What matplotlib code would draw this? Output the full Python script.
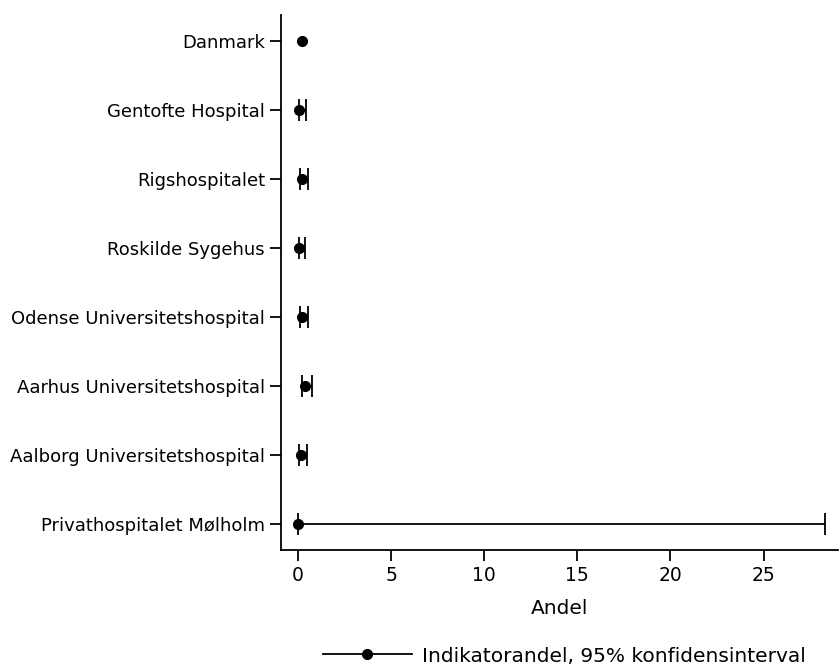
import matplotlib
matplotlib.use("Agg")
import matplotlib.pyplot as plt
from matplotlib.lines import Line2D
import numpy as np

hospitals = ["Danmark", "Gentofte Hospital", "Rigshospitalet", "Roskilde Sygehus",
             "Odense Universitetshospital", "Aarhus Universitetshospital",
             "Aalborg Universitetshospital", "Privathospitalet Mølholm"]
andel = [0.20, 0.05, 0.23, 0.04, 0.23, 0.37, 0.16, 0.0]
lower = [np.nan, 0.07, 0.10, 0.08, 0.10, 0.20, 0.07, 0.0]
upper = [np.nan, 0.45, 0.52, 0.36, 0.52, 0.77, 0.47, 28.3]
xticks = [0, 5, 10, 15, 20, 25]

fig = plt.figure(figsize=(8.39, 6.64), dpi=100)
ax = fig.add_axes([281/839, 1 - 550/664, (838-281)/839, (550-15)/664])

ypos = np.arange(len(hospitals))
a = np.array(andel)
lo = np.array(lower)
hi = np.array(upper)
has_ci = ~np.isnan(lo)

# confidence intervals
ax.errorbar(a[has_ci], ypos[has_ci],
            xerr=[np.clip(a[has_ci] - lo[has_ci], 0, None), hi[has_ci] - a[has_ci]],
            fmt="none", ecolor="black", capsize=8, elinewidth=1.3, capthick=1.3)
# point estimates
ax.plot(a, ypos, "o", color="black", markersize=7, linestyle="none")

ax.set_yticks(ypos)
ax.set_yticklabels(hospitals, fontsize=13)
ax.set_ylim(7.38, -0.38)
ax.set_xlim(-0.91, 29.0)
ax.set_xticks(xticks)
ax.set_xticklabels([str(t) for t in xticks], fontsize=13.5)
ax.set_xlabel("Andel", fontsize=14.5, labelpad=10)
for s in ["top", "right"]:
    ax.spines[s].set_visible(False)
for s in ["left", "bottom"]:
    ax.spines[s].set_linewidth(1.3)
ax.tick_params(axis="both", length=8, width=1.3, colors="black")

handle = Line2D([0], [0], color="black", marker="o", markersize=7, linewidth=1.3)
fig.legend([handle], ["Indikatorandel, 95% konfidensinterval"], loc="center left",
           bbox_to_anchor=(323/839, 1 - 656/664), frameon=False, fontsize=14.5,
           handlelength=4.4, handletextpad=0.5, borderpad=0, borderaxespad=0)

fig.savefig("out.png", dpi=100)
